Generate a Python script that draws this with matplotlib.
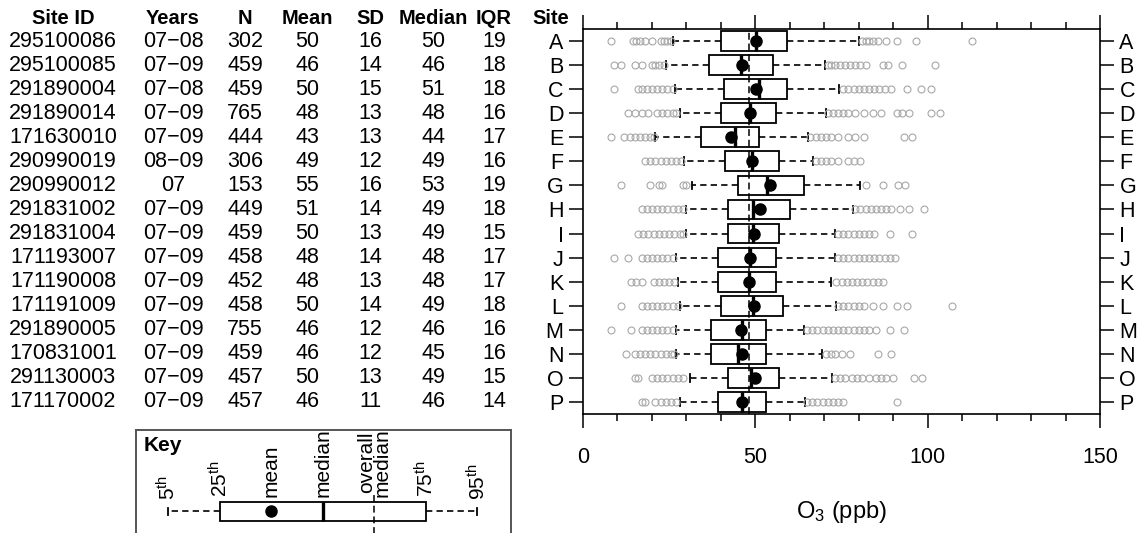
import numpy as np
import matplotlib
matplotlib.use("Agg")
import matplotlib.pyplot as plt
from matplotlib.transforms import blended_transform_factory

plt.rcParams["font.family"] = ["Liberation Sans", "DejaVu Sans"]
plt.rcParams["mathtext.default"] = "regular"

# ---- table ----
SITES = list("ABCDEFGHIJKLMNOP")
SITE_ID = ["295100086", "295100085", "291890004", "291890014", "171630010", "290990019",
           "290990012", "291831002", "291831004", "171193007", "171190008", "171191009",
           "291890005", "170831001", "291130003", "171170002"]
YEARS = ["07\u221208", "07\u221209", "07\u221208", "07\u221209", "07\u221209", "08\u221209",
         "07", "07\u221209", "07\u221209", "07\u221209", "07\u221209", "07\u221209",
         "07\u221209", "07\u221209", "07\u221209", "07\u221209"]
N_OBS = [302, 459, 459, 765, 444, 306, 153, 449, 459, 458, 452, 458, 755, 459, 457, 457]
MEAN = [50, 46, 50, 48, 43, 49, 55, 51, 50, 48, 48, 50, 46, 46, 50, 46]
SD = [16, 14, 15, 13, 13, 12, 16, 14, 13, 14, 13, 14, 12, 12, 13, 11]
MEDIAN = [50, 46, 51, 48, 44, 49, 53, 49, 49, 48, 48, 49, 46, 45, 49, 46]
IQR = [19, 18, 18, 16, 17, 16, 19, 18, 15, 17, 17, 18, 16, 16, 15, 14]

# ---- box summaries (ppb) ----
P05 = [26.1, 24.0, 26.8, 28.0, 21.0, 29.3, 31.6, 30.0, 29.9, 26.9, 27.6, 28.1, 26.9, 27.0, 31.0, 28.1]
Q1 = [40.0, 36.6, 41.0, 40.0, 34.1, 41.1, 45.0, 42.0, 42.1, 39.1, 39.1, 40.0, 37.1, 37.1, 42.0, 39.1]
Q2 = [50.2, 45.9, 51.0, 48.4, 44.2, 49.0, 53.3, 49.2, 49.2, 48.4, 48.2, 49.3, 46.2, 44.9, 48.8, 46.2]
Q3 = [59.1, 55.0, 59.1, 56.0, 51.0, 57.0, 64.0, 60.0, 57.0, 56.0, 56.0, 58.0, 53.1, 53.1, 57.0, 53.1]
P95 = [80.0, 70.2, 74.2, 70.4, 65.3, 66.7, 80.4, 78.2, 73.0, 73.0, 72.0, 73.4, 64.1, 69.3, 72.1, 64.3]
AVG = [50.3, 46.0, 50.2, 48.4, 42.8, 49.0, 54.4, 51.4, 49.6, 48.4, 48.3, 49.5, 45.7, 46.1, 50.0, 46.1]
LOW_OUT = [
    [8, 14.5, 15.5, 16.5, 18, 20, 22.5, 23.5, 24.5, 25.5],
    [9, 11, 15, 17, 20, 21, 22, 23.5],
    [9, 16, 17, 18.5, 20, 21.5, 23, 24.5, 26],
    [13, 15, 17, 19, 21.5, 23, 24.5, 26, 27],
    [8, 12, 13.5, 15, 16.5, 18, 19.5, 20.5],
    [18, 19.5, 21, 22.5, 24, 25.5, 27, 28.5],
    [11, 19.5, 22, 23, 29, 30],
    [17, 18.5, 20, 21.5, 23, 24.5, 26, 27.5, 29],
    [16, 17.5, 19, 20.5, 22, 23.5, 25, 26.5, 28, 29],
    [9, 13, 17, 18.5, 20, 21.5, 23, 24.5, 26],
    [14, 15.5, 17, 20.5, 22, 23.5, 25, 26.5],
    [11, 17, 18.5, 20, 21.5, 23, 24.5, 26, 27.5],
    [8, 14, 17, 18.5, 20, 21.5, 23, 24.5, 26],
    [12.5, 15, 16.5, 18, 19.5, 21, 22.5, 24, 25.5, 26.5],
    [15, 16, 20, 21.5, 23, 24.5, 26, 27.5, 29],
    [17, 18, 21, 22.5, 24, 25.5, 27],
]
HIGH_OUT = [
    [81, 82, 83, 84, 85.5, 88, 91, 96.5, 113],
    [71, 72, 73, 74.5, 76, 77.5, 79, 80.5, 82, 87, 88.5, 92.5, 102],
    [75.5, 77, 78.5, 80, 81.5, 83, 84.5, 86, 87.5, 89.5, 94, 98, 101],
    [71, 72.5, 74, 75.5, 77, 79, 81.5, 84, 86.5, 91, 92.5, 94.5, 101, 103.5],
    [66, 67.5, 69, 70.5, 72, 74, 77, 79, 81.5, 93, 95.5],
    [67.5, 69, 70.5, 72, 74, 77, 78.5, 80.5],
    [82, 87, 91.5, 93.5],
    [79, 80.5, 82, 83.5, 85, 86.5, 88, 89.5, 92, 94.5, 99],
    [74, 75.5, 77, 78.5, 80, 81.5, 83, 84.5, 89, 95.5],
    [74, 75.5, 77, 78.5, 80, 81.5, 83, 84.5, 86, 87.5, 89, 90.5],
    [73.5, 75, 76.5, 78, 79.5, 81, 82.5, 84, 85.5, 87],
    [74, 75.5, 77, 78.5, 80, 81.5, 84, 87, 91, 94, 107],
    [65, 66.5, 68, 69.5, 71, 72.5, 74, 75.5, 77, 78.5, 80, 81.5, 83, 85, 89, 93],
    [70.5, 72, 73, 75, 77.5, 85.5, 89.5],
    [73, 74.5, 76, 78, 79.5, 81, 83, 85, 86.5, 88, 90, 96, 98.5],
    [65, 66.5, 68, 69.5, 71, 72.5, 74, 75.5, 91],
]
OVERALL_MEDIAN = 48.3

# key: schematic positions of the seven elements
KEY_LABELS = ["5$^{th}$", "25$^{th}$", "mean", "median", "overall\nmedian", "75$^{th}$", "95$^{th}$"]
KEY_POS = [1, 2, 3, 4, 5, 6, 7]

W, H = 1140, 533
fig = plt.figure(figsize=(W / 100, H / 100), dpi=100)
ax = fig.add_axes([583 / W, 1 - 414 / H, (1100 - 583) / W, (414 - 29) / H])

box_style = dict(
    patch_artist=True, showmeans=True, manage_ticks=False,
    boxprops=dict(facecolor="white", edgecolor="black", linewidth=1.3),
    whiskerprops=dict(color="black", linewidth=1.2, linestyle=(0, (3.8, 2.5))),
    capprops=dict(color="black", linewidth=1.3),
    medianprops=dict(color="black", linewidth=2.4),
    meanprops=dict(marker="o", markerfacecolor="black", markeredgecolor="black", markersize=8),
    flierprops=dict(marker="o", markerfacecolor="none", markeredgecolor="#a8a8a8",
                    markersize=5, markeredgewidth=0.8),
)

stats = []
for i, s in enumerate(SITES):
    stats.append(dict(label=s, whislo=P05[i], q1=Q1[i], med=Q2[i], q3=Q3[i], whishi=P95[i],
                      mean=AVG[i], fliers=np.array(LOW_OUT[i] + HIGH_OUT[i])))
ax.bxp(stats, positions=range(len(SITES)), orientation="horizontal", widths=0.82,
       capwidths=0.32, **box_style)
ax.axvline(OVERALL_MEDIAN, color="black", lw=1.1, ls=(0, (4.5, 2.5)), zorder=2.05)

ax.set_xlim(0, 150)
ax.set_ylim(len(SITES) - 0.5, -0.5)
ax.set_xticks([0, 50, 100, 150])
ax.set_xticks(np.arange(0, 151, 10), minor=True)
ax.xaxis.set_ticks_position("both")
ax.tick_params(axis="x", which="major", direction="out", length=10, width=1.1,
               labelsize=15.5, pad=14, top=True, labeltop=False)
ax.tick_params(axis="x", which="minor", direction="out", length=5, width=1.1, top=True)
ax.set_yticks(range(len(SITES)))
ax.set_yticklabels(SITES)
ax.tick_params(axis="y", direction="out", length=10, width=1.1, labelsize=15.5,
               left=True, right=True, labelleft=True, labelright=True, pad=4)
for sp in ax.spines.values():
    sp.set_linewidth(1.2)
ax.set_xlabel("O$_3$ (ppb)", fontsize=17, labelpad=22)

# ---- table on the left, rows aligned with the sites ----
tr = blended_transform_factory(fig.transFigure, ax.transData)
cols = [("Site ID", 63, SITE_ID), ("Years", 173, YEARS), ("N", 245, N_OBS),
        ("Mean", 307, MEAN), ("SD", 370, SD), ("Median", 433, MEDIAN), ("IQR", 494, IQR)]
for head, xpx, vals in cols:
    ax.text(xpx / W, -0.95, head, transform=tr, ha="center", va="center",
            fontsize=14.5, fontweight="bold")
    for i, v in enumerate(vals):
        ax.text(xpx / W, i, str(v), transform=tr, ha="center", va="center", fontsize=15.5)
ax.text(551 / W, -0.95, "Site", transform=tr, ha="center", va="center",
        fontsize=14.5, fontweight="bold")

# ---- key ----
kx = fig.add_axes([136 / W, -0.05, 375 / W, 103 / H + 0.05])
kx.set_xlim(0.38, 7.65)
kx.set_ylim(-26.6, 103)
kx.set_xticks([]); kx.set_yticks([])
kx.spines["bottom"].set_visible(False)
for k in ("left", "right", "top"):
    kx.spines[k].set_linewidth(1.4)
    kx.spines[k].set_color("#555555")
kstat = [dict(whislo=KEY_POS[0], q1=KEY_POS[1], mean=KEY_POS[2], med=KEY_POS[3],
              q3=KEY_POS[5], whishi=KEY_POS[6], fliers=np.array([]))]
kx.bxp(kstat, positions=[22], orientation="horizontal", widths=19, capwidths=7, **box_style)
kx.plot([KEY_POS[4], KEY_POS[4]], [-30, 40], color="black", lw=1.1, ls=(0, (4.5, 2.5)))
for lab, xp in zip(KEY_LABELS, KEY_POS):
    yb = 33 if xp in (KEY_POS[0], KEY_POS[6]) else 36
    kx.text(xp, yb, lab, rotation=90, ha="center", va="bottom", fontsize=15,
            linespacing=0.72)
kx.text(0.52, 88, "Key", ha="left", va="center", fontsize=15, fontweight="bold")

fig.savefig("out.png", dpi=100)
